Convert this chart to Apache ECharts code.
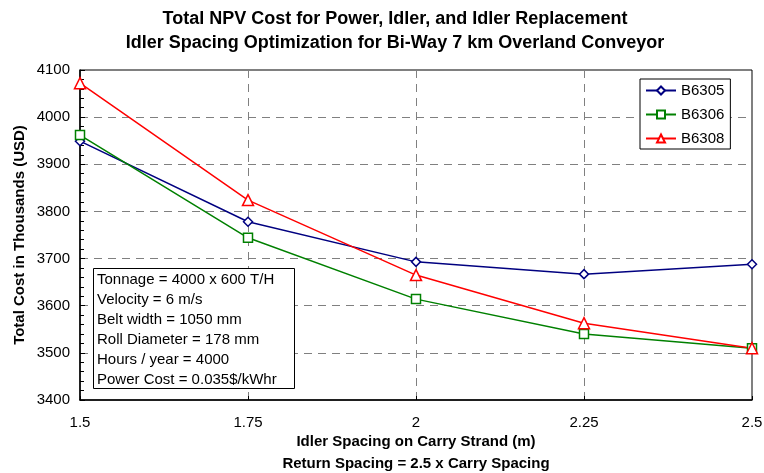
<!DOCTYPE html>
<html>
<head>
<meta charset="utf-8">
<script src="https://cdn.jsdelivr.net/npm/echarts@6/dist/echarts.min.js"></script>
<style>
  html, body { margin: 0; padding: 0; background: #fff; }
  #container { width: 764px; height: 473px; }
</style>
</head>
<body>
<div id="container"></div>
<script>
var spacing = [1.5, 1.75, 2, 2.25, 2.5];
var b6305 = [3949, 3778, 3693, 3667, 3688];
var b6306 = [3962, 3744, 3614, 3540, 3510];
var b6308 = [4072, 3824, 3665, 3563, 3510];
var seriesNames = ['B6305', 'B6306', 'B6308'];
var infoLines = [
    'Tonnage = 4000 x 600 T/H',
    'Velocity = 6 m/s',
    'Belt width = 1050 mm',
    'Roll Diameter = 178 mm',
    'Hours / year = 4000',
    'Power Cost = 0.035$/kWhr'
];

var dom = document.getElementById('container');
var myChart = echarts.init(dom);

function pairs(ys) {
    return spacing.map(function (x, i) { return [x, ys[i]]; });
}

var font = 'Liberation Sans, Arial, sans-serif';

function lineSeries(name, data, color, symbol) {
    return {
        name: name,
        type: 'line',
        data: pairs(data),
        symbol: symbol,
        symbolSize: symbol === 'triangle' ? 11 : 9,
        showAllSymbol: true,
        lineStyle: { color: color, width: 1.5 },
        itemStyle: { color: '#fff', borderColor: color, borderWidth: 1.5 },
        emphasis: { disabled: true },
        z: 3
    };
}

var option = {
    backgroundColor: '#fff',
    animation: false,
    textStyle: { fontFamily: font },
    title: {
        text: 'Total NPV Cost for Power, Idler, and Idler Replacement\nIdler Spacing Optimization for Bi-Way 7 km Overland Conveyor',
        left: 390,
        textAlign: 'center',
        top: 2,
        textStyle: { fontSize: 18, fontWeight: 'bold', color: '#000', lineHeight: 24, fontFamily: font }
    },
    grid: {
        left: 80, right: 12, top: 70, bottom: 73,
        containLabel: false,
        outerBoundsMode: 'none',
        show: true, borderColor: '#000', borderWidth: 1
    },
    legend: {
        orient: 'vertical',
        left: 640, top: 79,
        padding: [4, 6, 3, 5],
        itemGap: 9,
        itemWidth: 30,
        itemHeight: 10,
        borderColor: '#000',
        borderWidth: 1,
        backgroundColor: '#fff',
        textStyle: { fontSize: 15, color: '#000', fontFamily: font },
        data: seriesNames
    },
    xAxis: {
        type: 'value',
        min: 1.5, max: 2.5, interval: 0.25,
        name: 'Idler Spacing on Carry Strand (m)\nReturn Spacing = 2.5 x Carry Spacing',
        nameLocation: 'middle',
        nameMoveOverlap: false,
        nameGap: 31,
        nameTextStyle: { fontSize: 15, fontWeight: 'bold', color: '#000', lineHeight: 22, fontFamily: font },
        axisLine: { lineStyle: { color: '#000', width: 1.5 } },
        axisTick: { inside: true, length: 4, lineStyle: { color: '#000' } },
        axisLabel: { fontSize: 15, color: '#000', margin: 15, fontFamily: font },
        splitLine: { show: true, lineStyle: { color: '#808080', type: [8, 6], width: 1 } }
    },
    yAxis: {
        type: 'value',
        min: 3400, max: 4100, interval: 100,
        name: 'Total Cost in Thousands (USD)',
        nameLocation: 'middle',
        nameMoveOverlap: false,
        nameGap: 53,
        nameTextStyle: { fontSize: 15, fontWeight: 'bold', color: '#000', fontFamily: font },
        axisLine: { show: true, lineStyle: { color: '#000', width: 1.5 } },
        axisTick: { show: true, inside: true, length: 5, lineStyle: { color: '#000' } },
        minorTick: { show: true, splitNumber: 5, length: 4, lineStyle: { color: '#000' } },
        axisLabel: {
            fontSize: 15, color: '#000', margin: 10, fontFamily: font,
            formatter: function (v) { return String(v); }
        },
        splitLine: { show: true, lineStyle: { color: '#808080', type: [8, 6], width: 1 } }
    },
    graphic: [{
        type: 'rect',
        left: 93, top: 268,
        shape: { x: 0, y: 0, width: 201, height: 120 },
        style: { fill: '#fff', stroke: '#000', lineWidth: 1 },
        z: 100
    }, {
        type: 'text',
        left: 97, top: 270,
        style: {
            text: infoLines.join('\n'),
            font: '15px ' + font,
            lineHeight: 20,
            fill: '#000'
        },
        z: 101
    }],
    series: [
        lineSeries('B6305', b6305, '#000080', 'diamond'),
        lineSeries('B6306', b6306, '#008000', 'rect'),
        lineSeries('B6308', b6308, '#ff0000', 'triangle')
    ]
};

myChart.setOption(option, true);
</script>
</body>
</html>
